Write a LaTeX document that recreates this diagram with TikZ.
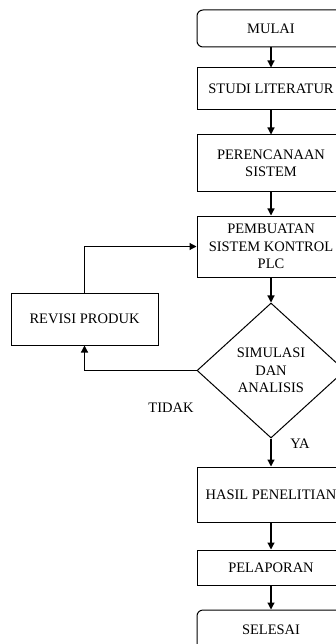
\documentclass[tikz,border=0pt]{standalone}
\usepackage{fontspec}
\setmainfont{Liberation Serif}
\usetikzlibrary{shapes.geometric,arrows.meta}
\begin{document}
\begin{tikzpicture}[x=1pt,y=-1pt,
  font=\fontsize{14.5}{17.5}\selectfont,
  box/.style={draw, line width=1pt, minimum width=148pt, align=center, inner sep=0pt},
  term/.style={box, rounded corners=6pt},
  dec/.style={draw, line width=1pt, diamond, minimum width=148pt, minimum height=135pt, inner sep=0pt, align=center},
  arr/.style={-{Triangle[length=7pt,width=7pt]}, line width=1.2pt}]
\useasboundingbox (0,0) rectangle (336,644);
\node[term, minimum height=37pt] (mulai) at (271,28.5) {MULAI};
\node[box, minimum height=42pt] (studi) at (271,89) {STUDI LITERATUR};
\node[box, minimum height=57pt] (renc) at (271,163.5) {PERENCANAAN\\SISTEM};
\node[box, minimum height=61pt] (buat) at (271,246.5) {PEMBUATAN\\SISTEM KONTROL\\PLC};
\node[box, minimum width=147pt, minimum height=52pt] (rev) at (84.5,319) {REVISI PRODUK};
\node[dec] (sim) at (271,370.5) {SIMULASI\\DAN\\ANALISIS};
\node[box, minimum height=55pt] (hasil) at (271,494.5) {HASIL PENELITIAN};
\node[box, minimum height=35pt] (lap) at (271,567.5) {PELAPORAN};
\node[term, minimum height=40pt] (sel) at (271,630) {SELESAI};
\node (tidak) at (171,408) {TIDAK};
\node (ya) at (300,444) {YA};
\coordinate (c1) at (rev.north |- buat.west);
\coordinate (c2) at (rev.south |- sim.west);
\draw[arr] (mulai) -- (studi);
\draw[arr] (studi) -- (renc);
\draw[arr] (renc) -- (buat);
\draw[arr] (buat) -- (sim);
\draw[arr] (sim) -- (hasil);
\draw[arr] (hasil) -- (lap);
\draw[arr] (lap) -- (sel);
\draw[arr] (rev.north) -- (c1) -- (buat.west);
\draw[arr] (sim.west) -- (c2) -- (rev.south);
\end{tikzpicture}
\end{document}
